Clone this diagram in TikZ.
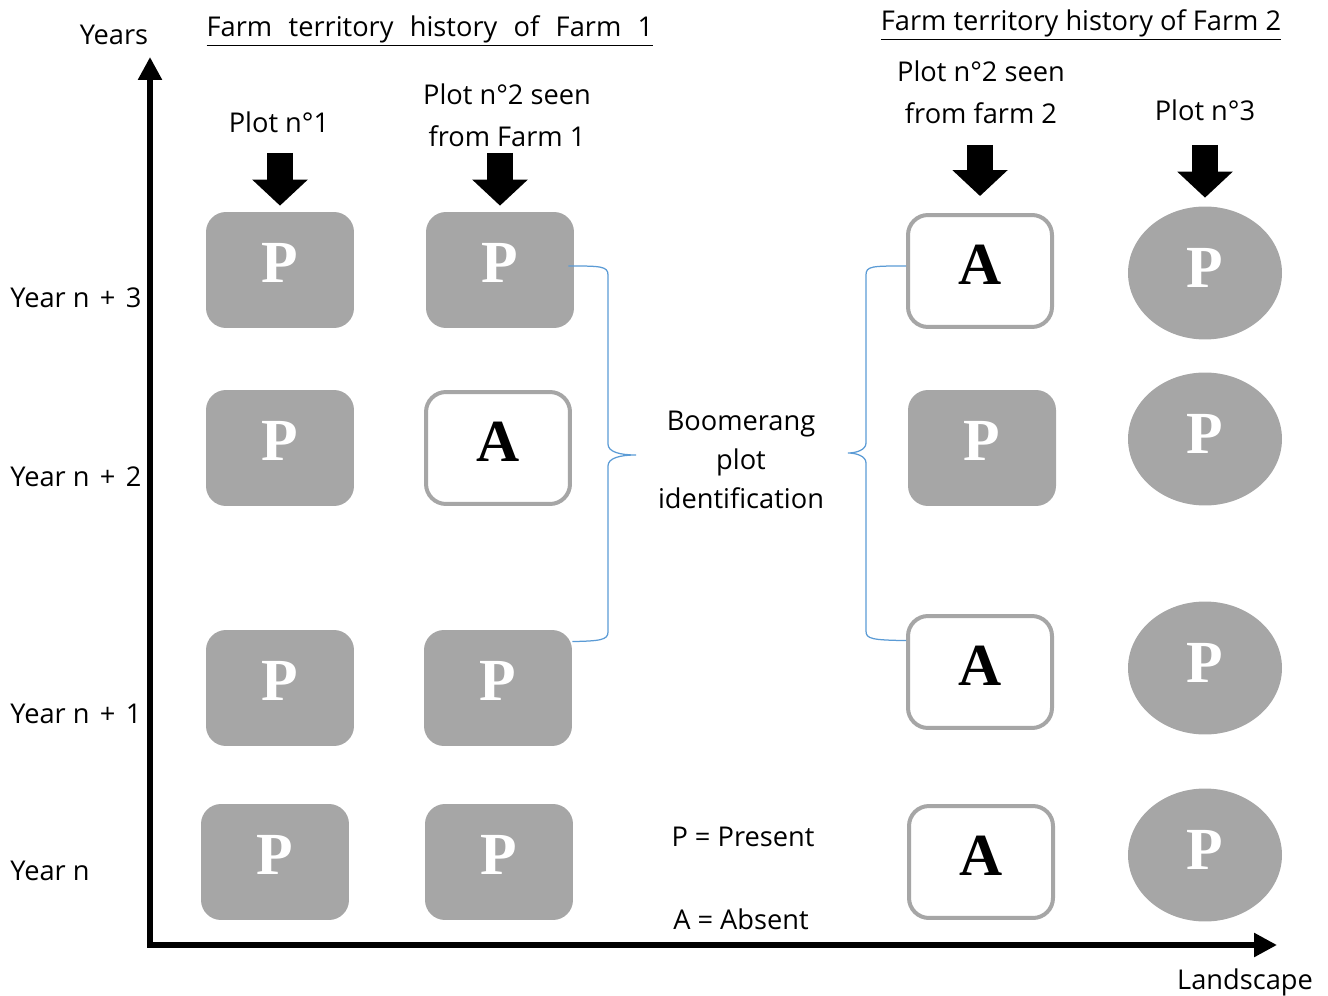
\documentclass[tikz,border=0pt]{standalone}
\usepackage{fontspec}
\setmainfont{Open Sans}
\newfontfamily\letterfont{Liberation Serif}
\usepackage{tikz}
\usetikzlibrary{arrows.meta, positioning, shapes.geometric}

\definecolor{plotgray}{HTML}{A6A6A6}
\definecolor{bracecol}{HTML}{5B9BD5}

\tikzset{
	present/.style={fill=plotgray, rounded corners=0.4cm, minimum width=2.96cm, minimum height=2.32cm, inner sep=0pt, text=white, font=\fontsize{34}{34}\letterfont\bfseries, text depth=0.3cm},
	absent/.style={draw=plotgray, line width=0.08cm, fill=white, rounded corners=0.4cm, minimum width=2.88cm, minimum height=2.24cm, inner sep=0pt, font=\fontsize{34}{34}\letterfont\bfseries, text depth=0.26cm},
	disc/.style={ellipse, fill=plotgray, minimum width=3.08cm, minimum height=2.66cm, inner sep=0pt, text=white, font=\fontsize{34}{34}\letterfont\bfseries, text depth=0.22cm},
	yearlabel/.style={anchor=west, inner sep=0pt},
	axis/.style={line width=0.11cm, {Triangle[width=0.46cm, length=0.46cm]}-{Triangle[width=0.46cm, length=0.46cm]}},
	blockarrow/.style={line width=0.52cm, -{Triangle[width=1.08cm, length=0.52cm]}},
	brace/.style={draw=bracecol, line width=0.025cm}
}

\begin{document}
\begin{tikzpicture}[x=0.02cm, y=-0.02cm, font=\fontsize{15.5}{24}\selectfont]

\useasboundingbox (0,0) rectangle (1328,996);

% axes
\coordinate (origin) at (150,945);
\coordinate (ytop) at (150,57);
\coordinate (xend) at (1277,945);
\draw [axis] (ytop) -- (origin) -- (xend);

\node (years) at (114,35) {Years};
\node (landscape) at (1245,982) {Landscape};

\node (title1) at (430,31) {\underline{\spaceskip=0.6em Farm territory history of Farm 1}};
\node (title2) at (1081,25) {\underline{Farm territory history of Farm 2}};

\node [yearlabel] (y3) at (10,298) {Year n\hspace{0.12em} + \hspace{0.12em}3};
\node [yearlabel] (y2) at (10,477) {Year n\hspace{0.12em} + \hspace{0.12em}2};
\node [yearlabel] (y1) at (10,714) {Year n\hspace{0.12em} + \hspace{0.12em}1};
\node [yearlabel] (y0) at (10,871) {Year n};

% plot labels
\node [align=center] (l1) at (279,122) {Plot n°1};
\node [align=center] (l2) at (507,115) {Plot n°2 seen \\ from Farm 1};
\node [align=center] (l3) at (981,92) {Plot n°2 seen \\ from farm 2};
\node [align=center] (l4) at (1205,110) {Plot n°3};

% farm 1
\node [present] (p13) at (280,270) {P};
\node [present] (p12) at (280,448) {P};
\node [present] (p11) at (280,688) {P};
\node [present] (p10) at (275,862) {P};

\node [present] (p23) at (500,270) {P};
\node [absent] (p22) at (498,448) {A};
\node [present] (p21) at (498,688) {P};
\node [present] (p20) at (499,862) {P};

% farm 2
\node [absent] (p33) at (980,271) {A};
\node [present] (p32) at (982,448) {P};
\node [absent] (p31) at (980,672) {A};
\node [absent] (p30) at (981,862) {A};

\node [disc] (p43) at (1205,273) {P};
\node [disc] (p42) at (1205,439) {P};
\node [disc] (p41) at (1205,668) {P};
\node [disc] (p40) at (1205,855) {P};

% arrows onto the plots
\coordinate (a1) at (280,153);
\coordinate (a2) at (500,153);
\coordinate (a3) at (980,145);
\coordinate (a4) at (1205,145);
\draw [blockarrow, shorten >=0.12cm] (a1) -- (p13);
\draw [blockarrow, shorten >=0.12cm] (a2) -- (p23);
\draw [blockarrow, shorten >=0.34cm] (a3) -- (p33);
\draw [blockarrow, shorten >=0.17cm] (a4) -- (p43);

% braces
\draw [brace] ([xshift=-0.12cm, yshift=0.08cm]p23.east) .. controls (600,266) and (608,266) .. (608,275)
	-- (608,444) .. controls (608,452) and (620,455) .. (636,455)
	.. controls (620,455) and (608,458) .. (608,466)
	-- (608,632) .. controls (608,640) and (600,641) .. (p21.32);
\draw [brace] ([yshift=0.1cm]p33.west) .. controls (872,266) and (866,266) .. (866,275)
	-- (866,443) .. controls (866,450) and (856,453) .. (848,453)
	.. controls (856,453) and (866,456) .. (866,463)
	-- (866,631) .. controls (866,639) and (872,640) .. (p31.157);

\node [align=center, font=\fontsize{15.5}{22}\selectfont] (boomerang) at (741,460) {Boomerang \\ plot \\ identification};

% legend
\node (present) at (743,837) {P = Present};
\node (absent) at (741,919) {A = Absent};

\end{tikzpicture}
\end{document}
